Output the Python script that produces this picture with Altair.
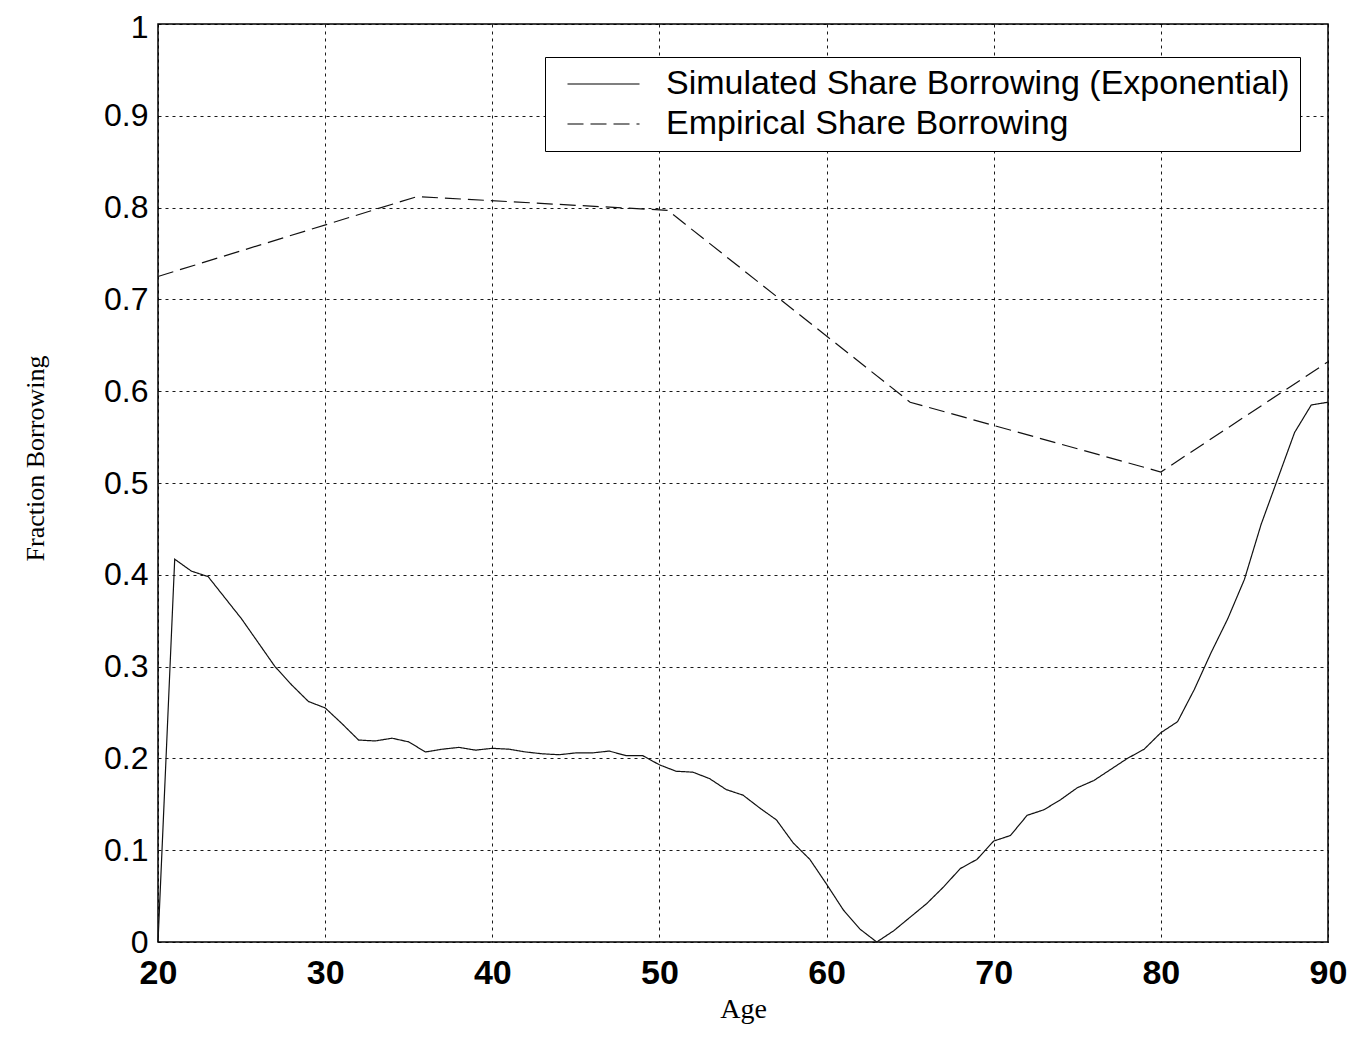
import altair as alt
import pandas as pd

series_names = ["Simulated Share Borrowing (Exponential)", "Empirical Share Borrowing"]

sim_age = list(range(20, 91))
sim_share = [
    0.000, 0.417, 0.404, 0.398, 0.375, 0.352, 0.326, 0.300, 0.280, 0.262,  # 20-29
    0.255, 0.238, 0.220, 0.219, 0.222, 0.218, 0.207, 0.210, 0.212, 0.209,  # 30-39
    0.211, 0.210, 0.207, 0.205, 0.204, 0.206, 0.206, 0.208, 0.203, 0.203,  # 40-49
    0.193, 0.186, 0.185, 0.178, 0.166, 0.160, 0.146, 0.133, 0.108, 0.090,  # 50-59
    0.063, 0.035, 0.014, 0.000, 0.012, 0.027, 0.042, 0.060, 0.080, 0.090,  # 60-69
    0.110, 0.116, 0.138, 0.144, 0.155, 0.168, 0.176, 0.188, 0.200, 0.210,  # 70-79
    0.228, 0.240, 0.275, 0.315, 0.352, 0.395, 0.455, 0.505, 0.555, 0.585,  # 80-89
    0.588,                                                                  # 90
]

emp_age = [20, 35.5, 50.5, 65, 80, 90]
emp_share = [0.725, 0.812, 0.797, 0.588, 0.512, 0.632]

x_ticks = [20, 30, 40, 50, 60, 70, 80, 90]
y_ticks = [0, 0.1, 0.2, 0.3, 0.4, 0.5, 0.6, 0.7, 0.8, 0.9, 1]

df = pd.concat([
    pd.DataFrame({"age": sim_age, "share": sim_share, "series": series_names[0]}),
    pd.DataFrame({"age": emp_age, "share": emp_share, "series": series_names[1]}),
])

chart = alt.Chart(df).mark_line(color="#111111", strokeWidth=1.2).encode(
    x=alt.X("age:Q",
            scale=alt.Scale(domain=[20, 90], nice=False, zero=False),
            axis=alt.Axis(values=x_ticks, title="Age", labelFontWeight="bold",
                          labelFontSize=34, labelFlush=False, labelPadding=14,
                          titlePadding=5, titleFontSize=28)),
    y=alt.Y("share:Q",
            scale=alt.Scale(domain=[0, 1], nice=False),
            axis=alt.Axis(values=y_ticks, title="Fraction Borrowing",
                          labelExpr="format(datum.value, '~g')",
                          labelOffset={"condition": {"test": "datum.value == 1", "value": 3}, "value": 0},
                          labelFontSize=32, labelFlush=False, labelPadding=10,
                          titleFontSize=26, titleAngle=270, titleBaseline="middle",
                          titleAlign="center", titleX=-123, titleY=434)),
    strokeDash=alt.StrokeDash(
        "series:N",
        scale=alt.Scale(domain=series_names, range=[[1, 0], [16, 7]]),
        legend=alt.Legend(
            title=None, orient="none", legendX=387, legendY=33,
            fillColor="white", strokeColor="black", padding=10,
            labelFont="Liberation Sans", labelFontSize=34, labelColor="black",
            labelLimit=900, labelOffset=77, rowPadding=6,
            symbolType="M-0.5,0H7.5", symbolSize=324, symbolStrokeWidth=1.2,
            symbolStrokeColor="black",
        ),
    ),
    order=alt.Order("age:Q"),
).properties(
    width=1170, height=918,
    padding={"left": 150, "top": 16, "right": 27, "bottom": 87},
    autosize="none",
).configure_view(
    stroke="black", strokeWidth=1.5
).configure_axis(
    domain=False, ticks=False, grid=True, gridColor="black", gridDash=[3, 4],
    gridWidth=1, gridOpacity=0.9,
    labelFont="Liberation Sans", labelColor="black",
    titleFont="Liberation Serif", titleFontWeight="normal", titleColor="black",
)

chart.save("out.html", embed_options={"renderer": "svg", "actions": False})
